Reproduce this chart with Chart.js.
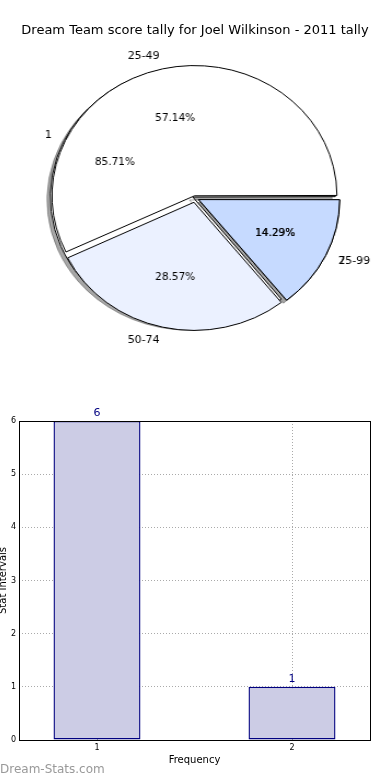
<!DOCTYPE html>
<html>
<head>
<meta charset="utf-8">
<script src="https://cdn.jsdelivr.net/npm/chart.js@4.4.1/dist/chart.umd.min.js"></script>
<style>
  html, body { margin: 0; padding: 0; background: #fff; }
  body { width: 390px; height: 780px; position: relative; overflow: hidden; font-family: "DejaVu Sans", sans-serif; }
  #title { position: absolute; top: 22px; left: 0; width: 390px; text-align: center; font-size: 13px; color: #000; z-index: 5; }
  .pie { position: absolute; left: 14.5px; top: 18px; transform-origin: 180px 180px; transform: scaleX(1.094); }
  #barChart { position: absolute; left: -3px; top: 400px; }
  #credit { position: absolute; left: 0; top: 762px; font-size: 12px; color: #999; }
</style>
</head>
<body>
<div id="title"></div>
<canvas id="pieFreq" class="pie" width="360" height="360"></canvas>
<canvas id="pieBands" class="pie" width="360" height="360"></canvas>
<canvas id="barChart" width="393" height="380"></canvas>
<div id="credit">Dream-Stats.com</div>
<script>
const pieTitle = "Dream Team score tally for Joel Wilkinson - 2011 tally";
const scoreBands = ["25-49", "50-74", "75-99"];
const bandCounts = [4, 2, 1];
const freqLabels = ["1", "2"];
const freqCounts = [6, 1];
const bandColors = ["#ffffff", "#ebf1ff", "#c6daff"];
const freqColors = ["#ffffff", "#ebf1ff"];

const SX = 1.094;     // pie axes weren't square in the original, so it comes out oval
const EXPLODE = 4.5;  // px each wedge is pushed out

document.getElementById("title").textContent = pieTitle;

Chart.defaults.font.family = "'DejaVu Sans', sans-serif";
Chart.defaults.color = "#000";
Chart.defaults.animation = false;

// chart.js moves a slice by offset/4 * (2 - sin(circ)), so turn the wanted shift into that
function offsetFor(frac, shift) {
  const circ = frac * 2 * Math.PI;
  return shift * 4 / (2 - Math.sin(Math.min(Math.PI, circ)));
}

function sliceShift(arc) {
  const off = arc.options.offset || 0;
  const circ = arc.endAngle - arc.startAngle;
  return off / 4 * (2 - Math.sin(Math.min(Math.PI, circ)));
}

// both pies sit on top of each other, so the top one writes the text for both
const piesToLabel = [];

function drawPieText(ctx, chart) {
  const meta = chart.getDatasetMeta(0);
  const data = chart.data.datasets[0].data;
  const total = data.reduce((a, b) => a + b, 0);

  meta.data.forEach((arc, i) => {
    const p = arc.getProps(["x", "y", "startAngle", "endAngle", "outerRadius"]);
    const mid = (p.startAngle + p.endAngle) / 2;
    const s = sliceShift(arc);
    const cx = p.x + Math.cos(mid) * s;
    const cy = p.y + Math.sin(mid) * s;

    const put = (txt, k, align, size) => {
      ctx.save();
      ctx.translate(cx + Math.cos(mid) * k * p.outerRadius, cy + Math.sin(mid) * k * p.outerRadius);
      ctx.scale(1 / SX, 1);
      ctx.font = size + "px 'DejaVu Sans'";
      ctx.fillStyle = "#000";
      ctx.textAlign = align;
      ctx.textBaseline = "middle";
      ctx.fillText(txt, 0, 0);
      ctx.restore();
    };

    put(chart.data.labels[i], 1.1, Math.cos(mid) > 0 ? "left" : "right", 11);
    put((data[i] / total * 100).toFixed(2) + "%", 0.6, "center", 10.5);
  });
}

const pieLabels = {
  id: "pieLabels",
  afterDatasetsDraw(chart) {
    piesToLabel.forEach(c => drawPieText(chart.ctx, c));
    drawPieText(chart.ctx, chart);
  }
};

const pieShadow = {
  id: "pieShadow",
  beforeDatasetsDraw(chart) {
    const ctx = chart.ctx;
    ctx.save();
    ctx.shadowColor = "rgba(77,77,77,0.5)";
    ctx.shadowOffsetX = -3;
    ctx.shadowOffsetY = 3;
    ctx.shadowBlur = 0;
  },
  afterDatasetsDraw(chart) {
    chart.ctx.restore();
  }
};

function makePie(id, labels, values, colors, plugins) {
  // matplotlib goes anticlockwise from 3 o'clock, chart.js clockwise - so flip the order
  const lab = labels.slice().reverse();
  const val = values.slice().reverse();
  const col = colors.slice().reverse();
  const total = val.reduce((a, b) => a + b, 0);

  return new Chart(document.getElementById(id), {
    type: "pie",
    data: {
      labels: lab,
      datasets: [{
        data: val,
        backgroundColor: col,
        borderColor: "#000",
        borderWidth: 1,
        offset: val.map(v => offsetFor(v / total, EXPLODE))
      }]
    },
    options: {
      responsive: false,
      rotation: 90,
      radius: 128,
      events: [],
      layout: { padding: 0 },
      plugins: { legend: { display: false }, tooltip: { enabled: false } }
    },
    plugins
  });
}

const freqPie = makePie("pieFreq", freqLabels, freqCounts, freqColors, [pieShadow]);
piesToLabel.push(freqPie);
makePie("pieBands", scoreBands, bandCounts, bandColors, [pieLabels]);

// bar chart
const barValues = {
  id: "barValues",
  afterDatasetsDraw(chart) {
    const ctx = chart.ctx;
    const meta = chart.getDatasetMeta(0);
    ctx.save();
    ctx.font = "11px 'DejaVu Sans'";
    ctx.fillStyle = "#000080";
    ctx.textAlign = "center";
    ctx.textBaseline = "alphabetic";
    meta.data.forEach((bar, i) => {
      ctx.fillText(String(freqCounts[i]), bar.x, bar.y - 5);
    });
    ctx.restore();
  }
};

const frame = {
  id: "frame",
  afterDraw(chart) {
    const { ctx, chartArea: a } = chart;
    ctx.save();
    ctx.strokeStyle = "#000";
    ctx.lineWidth = 1;
    ctx.strokeRect(Math.round(a.left) + 0.5, Math.round(a.top) + 0.5,
      Math.round(a.right - a.left), Math.round(a.bottom - a.top));
    ctx.restore();
  }
};

new Chart(document.getElementById("barChart"), {
  type: "bar",
  data: {
    datasets: [{
      data: freqLabels.map((l, i) => ({ x: Number(l), y: freqCounts[i] })),
      backgroundColor: "#ccccE5",
      borderColor: "#000080",
      borderWidth: 1.4,
      borderSkipped: false,
      barPercentage: 0.446,
      categoryPercentage: 1
    }]
  },
  options: {
    responsive: false,
    events: [],
    layout: { padding: { top: 21, right: 20, bottom: 0, left: 0 } },
    plugins: { legend: { display: false }, tooltip: { enabled: false } },
    scales: {
      x: {
        type: "linear",
        min: 0.6,
        max: 2.4,
        offset: false,
        z: 1,
        afterBuildTicks: (axis) => { axis.ticks = freqLabels.map(l => ({ value: Number(l) })); },
        afterFit: (axis) => { axis.height = 40; },
        ticks: { font: { size: 8 }, padding: 3, callback: (v) => String(v) },
        grid: { color: "#aaaaaa", lineWidth: 1, drawTicks: false, offset: false },
        border: { display: false, dash: [1, 2] },
        title: { display: true, text: "Frequency", font: { size: 10 }, padding: { top: 0, bottom: 14 } }
      },
      y: {
        min: 0,
        max: 6,
        z: 1,
        afterFit: (axis) => { axis.width = 22; },
        ticks: { stepSize: 1, font: { size: 8 }, padding: 3 },
        grid: { color: "#aaaaaa", lineWidth: 1, drawTicks: false },
        border: { display: false, dash: [1, 2] },
        title: { display: true, text: "Stat Intervals", font: { size: 10 }, padding: { top: 0, bottom: 0 } }
      }
    }
  },
  plugins: [barValues, frame]
});
</script>
</body>
</html>
